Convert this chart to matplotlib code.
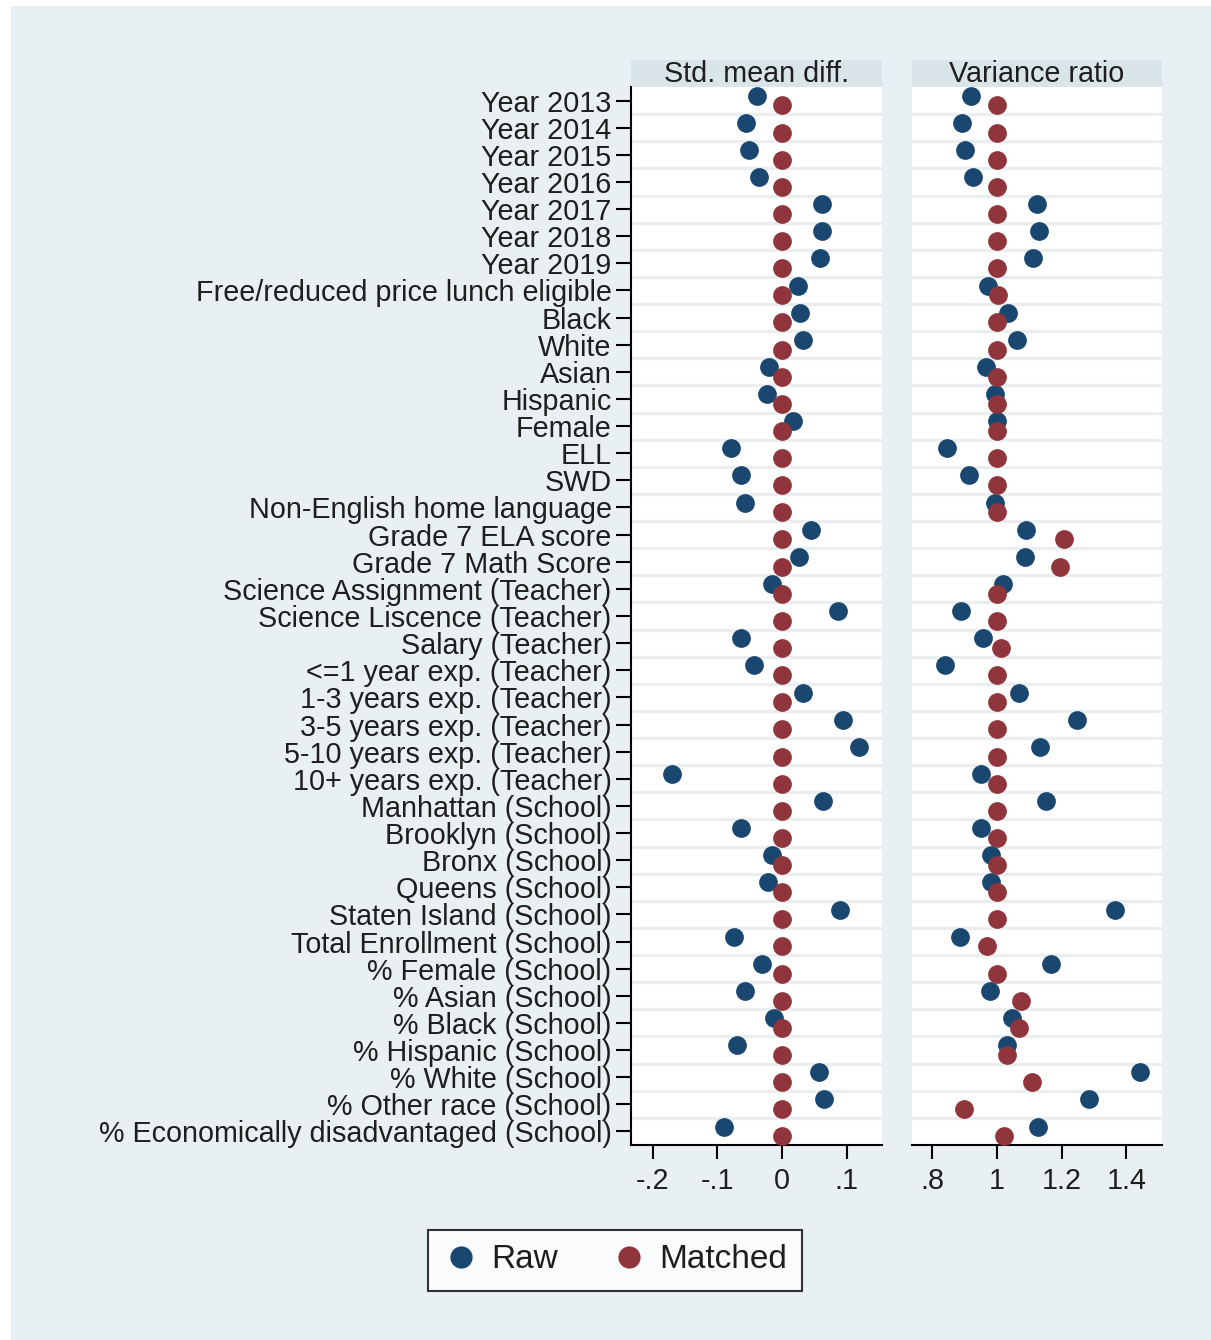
import matplotlib
matplotlib.use("Agg")
import matplotlib.pyplot as plt
from matplotlib.patches import Rectangle
import numpy as np

plt.rcParams['font.family'] = ['Liberation Sans', 'DejaVu Sans']

# covariates, top to bottom
labels = [
    "Year 2013", "Year 2014", "Year 2015", "Year 2016", "Year 2017",
    "Year 2018", "Year 2019", "Free/reduced price lunch eligible", "Black",
    "White", "Asian", "Hispanic", "Female", "ELL", "SWD",
    "Non-English home language", "Grade 7 ELA score", "Grade 7 Math Score",
    "Science Assignment (Teacher)", "Science Liscence (Teacher)",
    "Salary (Teacher)", "<=1 year exp. (Teacher)", "1-3 years exp. (Teacher)",
    "3-5 years exp. (Teacher)", "5-10 years exp. (Teacher)",
    "10+ years exp. (Teacher)", "Manhattan (School)", "Brooklyn (School)",
    "Bronx (School)", "Queens (School)", "Staten Island (School)",
    "Total Enrollment (School)", "% Female (School)", "% Asian (School)",
    "% Black (School)", "% Hispanic (School)", "% White (School)",
    "% Other race (School)", "% Economically disadvantaged (School)",
]

# standardized mean differences
smd_raw = [
    -0.039, -0.056, -0.051, -0.035, 0.062, 0.062, 0.059, 0.025, 0.028,
    0.032, -0.020, -0.024, 0.017, -0.079, -0.063, -0.057, 0.045, 0.027,
    -0.016, 0.087, -0.064, -0.043, 0.032, 0.094, 0.119, -0.170, 0.064,
    -0.063, -0.015, -0.021, 0.090, -0.074, -0.031, -0.057, -0.012, -0.069,
    0.058, 0.065, -0.090,
]
smd_matched = [0.0] * 39

# variance ratios
vr_raw = [
    0.920, 0.891, 0.901, 0.925, 1.123, 1.130, 1.112, 0.971, 1.035, 1.063,
    0.966, 0.994, 1.000, 0.846, 0.913, 0.994, 1.089, 1.087, 1.017, 0.888,
    0.956, 0.839, 1.068, 1.248, 1.133, 0.951, 1.150, 0.951, 0.981, 0.981,
    1.365, 0.886, 1.166, 0.978, 1.045, 1.032, 1.442, 1.285, 1.126,
]
vr_matched = [
    1.0, 1.0, 1.0, 1.0, 1.0, 1.0, 1.0, 1.003, 1.0, 1.0,
    1.0, 1.0, 1.0, 1.0, 1.0, 1.0, 1.208, 1.195, 1.0, 1.0,
    1.013, 1.0, 1.0, 1.0, 1.0, 1.0, 1.0, 1.0, 1.0, 1.0,
    1.0, 0.970, 0.999, 1.073, 1.069, 1.030, 1.109, 0.899, 1.023,
]

panels = ["Std. mean diff.", "Variance ratio"]
xticks_smd = [-0.2, -0.1, 0, 0.1]
xticklabels_smd = ["-.2", "-.1", "0", ".1"]
xticks_vr = [0.8, 1, 1.2, 1.4]
xticklabels_vr = [".8", "1", "1.2", "1.4"]

navy = "#1a476f"
maroon = "#90353b"
bg = "#e8f0f3"
strip = "#dae5ea"
txt = "#1e1e1e"
fs = 20.7

W, H = 1211, 1340
fig = plt.figure(figsize=(W / 100, H / 100), dpi=100, facecolor=bg)
# white margin on top/left from the original screenshot
fig.patches.append(Rectangle((0, 0), 11 / W, 1, transform=fig.transFigure,
                             facecolor="white", edgecolor="none", zorder=0))
fig.patches.append(Rectangle((0, 1 - 6 / H), 1, 6 / H, transform=fig.transFigure,
                             facecolor="white", edgecolor="none", zorder=0))

bottom = 1 - 1145 / H
height = 1058 / H
ax1 = fig.add_axes([631 / W, bottom, 251 / W, height])
ax2 = fig.add_axes([912 / W, bottom, 250 / W, height])

y = np.arange(len(labels))
off = 0.18
ms = 13.5

for ax, raw, mat, xlim, xt, xtl, title in [
    (ax1, smd_raw, smd_matched, (-0.234, 0.155), xticks_smd, xticklabels_smd, panels[0]),
    (ax2, vr_raw, vr_matched, (0.737, 1.51), xticks_vr, xticklabels_vr, panels[1]),
]:
    ax.set_facecolor("white")
    for k in range(len(labels) - 1):
        ax.axhline(k + 0.5, color="#eaeef1", lw=2.4, zorder=1)
    ax.plot(raw, y - off, "o", color=navy, ms=ms, mec="none", zorder=3)
    ax.plot(mat, y + off, "o", color=maroon, ms=ms, mec="none", zorder=3)
    ax.set_xlim(*xlim)
    ax.set_ylim(len(labels) - 0.5, -0.5)
    ax.set_xticks(xt)
    ax.set_xticklabels(xtl, fontsize=fs, color=txt)
    ax.tick_params(axis="x", length=10, width=1.5, pad=6)
    for s in ["top", "right"]:
        ax.spines[s].set_visible(False)
    ax.spines["bottom"].set_linewidth(1.5)
    # header strip
    ax.add_patch(Rectangle((0, 1), 1, 27 / 1058, transform=ax.transAxes,
                           facecolor=strip, edgecolor="none", clip_on=False))
    ax.text(0.5, 1 + 13.5 / 1058, title, transform=ax.transAxes, ha="center",
            va="center", fontsize=fs, color=txt)

ax1.set_yticks(y)
ax1.set_yticklabels(labels, fontsize=fs, color=txt)
ax1.tick_params(axis="y", length=11, width=1.5, pad=3)
ax1.spines["left"].set_linewidth(1.5)
ax2.set_yticks([])
ax2.spines["left"].set_visible(False)

handles = [
    plt.Line2D([], [], marker="o", ls="none", color=navy, ms=16, mec="none"),
    plt.Line2D([], [], marker="o", ls="none", color=maroon, ms=16, mec="none"),
]
leg = fig.legend(handles, ["Raw", "Matched"], loc="center",
                 bbox_to_anchor=(615 / W, 1 - 1260 / H), ncol=2, fontsize=24,
                 frameon=True, fancybox=False, edgecolor="black",
                 handletextpad=0.35, columnspacing=1.6, borderpad=0.45,
                 handlelength=1.1, borderaxespad=0)
leg.get_frame().set_linewidth(1.5)
for t in leg.get_texts():
    t.set_color(txt)

fig.savefig("out.png", dpi=100, facecolor=fig.get_facecolor())
